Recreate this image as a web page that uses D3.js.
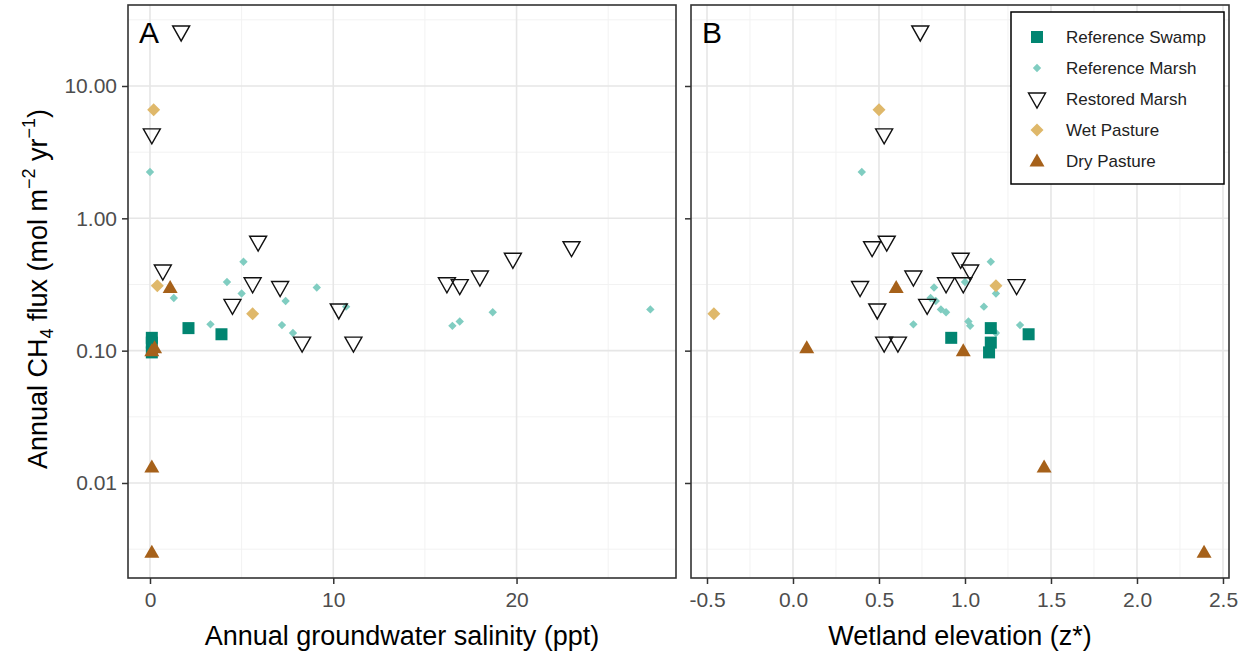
<!DOCTYPE html>
<html>
<head>
<meta charset="utf-8">
<script src="https://cdn.jsdelivr.net/npm/d3@7"></script>
<style>
body { margin:0; background:#fff; }
svg text { font-family: Arial, "Liberation Sans", sans-serif; }
</style>
</head>
<body>
<svg id="chart" width="1250" height="653"></svg>
<script>
// ---- data ----
const groups = ["Reference Swamp", "Reference Marsh", "Restored Marsh", "Wet Pasture", "Dry Pasture"]

const swampFlux = [0.148, 0.133, 0.125, 0.115, 0.097]
const swampSal  = [2.1, 3.9, 0.1, 0.1, 0.1]
const swampElev = [1.15, 1.37, 0.92, 1.15, 1.14]

const refMarshFlux = [2.24, 0.47, 0.33, 0.27, 0.25, 0.30, 0.237, 0.215, 0.158, 0.156, 0.136, 0.154, 0.166, 0.195, 0.205]
const refMarshSal  = [0.0, 5.1, 4.2, 5.0, 1.3, 9.1, 7.4, 10.7, 3.3, 7.2, 7.8, 16.5, 16.9, 18.7, 27.3]
const refMarshElev = [0.40, 1.15, 1.00, 1.18, 0.80, 0.82, 0.83, 1.11, 0.70, 1.32, 1.18, 1.03, 1.02, 0.89, 0.86]

const restFlux = [25.6, 4.27, 0.40, 0.66, 0.32, 0.30, 0.22, 0.114, 0.114, 0.203, 0.32, 0.31, 0.36, 0.49, 0.60]
const restSal  = [1.7, 0.1, 0.7, 5.9, 5.6, 7.1, 4.5, 8.3, 11.1, 10.3, 16.2, 16.9, 18.0, 19.8, 23.0]
const restElev = [0.74, 0.53, 1.03, 0.545, 0.89, 0.39, 0.78, 0.53, 0.61, 0.49, 0.99, 1.30, 0.70, 0.975, 0.46]

const wetFlux = [6.6, 0.31, 0.19]
const wetSal  = [0.2, 0.4, 5.6]
const wetElev = [0.50, 1.18, -0.46]

const dryFlux = [0.30, 0.10, 0.105, 0.0132, 0.0030]
const drySal  = [1.1, 0.1, 0.25, 0.1, 0.1]
const dryElev = [0.60, 0.99, 0.08, 1.46, 2.39]

const yTicks = [10, 1, 0.1, 0.01]
const yMinor = [31.62, 3.162, 0.3162, 0.03162, 0.003162]
const xTicksA = [0, 10, 20]
const xMinorA = [5, 15, 25]
const xTicksB = [-0.5, 0, 0.5, 1, 1.5, 2, 2.5]
const xMinorB = [-0.25, 0.25, 0.75, 1.25, 1.75, 2.25]

// ---- styles ----
const colors = {
    "Reference Swamp": "#018571",
    "Reference Marsh": "#80CDC1",
    "Restored Marsh": "#ffffff",
    "Wet Pasture": "#DFB86A",
    "Dry Pasture": "#A6611A"
}

const svg = d3.select("#chart")

const plotTop = 5, plotBottom = 578
const hyphenFmt = v => d3.format(".1f")(v).replace("\u2212", "-")
const panels = [
    {key:"A", left:128, right:676, domain:[-1.2, 28.7], ticks:xTicksA, minor:xMinorA, fmt:d3.format("d"),
     title:"Annual groundwater salinity (ppt)", labels:true},
    {key:"B", left:691, right:1229, domain:[-0.593, 2.535], ticks:xTicksB, minor:xMinorB, fmt:hyphenFmt,
     title:"Wetland elevation (z*)", labels:false}
]

const y = d3.scaleLog().domain([Math.pow(10,-2.718), Math.pow(10,1.612)]).range([plotBottom, plotTop])

// build point table from the arrays
function rows(flux, xs, group){ return flux.map((f,i)=>({flux:f, x:xs[i], group:group})) }
const dataA = [].concat(
    rows(refMarshFlux, refMarshSal, "Reference Marsh"),
    rows(swampFlux, swampSal, "Reference Swamp"),
    rows(restFlux, restSal, "Restored Marsh"),
    rows(wetFlux, wetSal, "Wet Pasture"),
    rows(dryFlux, drySal, "Dry Pasture"))
const dataB = [].concat(
    rows(refMarshFlux, refMarshElev, "Reference Marsh"),
    rows(swampFlux, swampElev, "Reference Swamp"),
    rows(restFlux, restElev, "Restored Marsh"),
    rows(wetFlux, wetElev, "Wet Pasture"),
    rows(dryFlux, dryElev, "Dry Pasture"))

// marker shapes
function drawMarker(g, group, cx, cy){
    if (group=="Reference Swamp"){
        g.append("rect").attr("x",cx-6).attr("y",cy-6).attr("width",12).attr("height",12)
         .attr("fill",colors[group])
    } else if (group=="Reference Marsh"){
        g.append("path").attr("d",`M${cx},${cy-4.2}L${cx+4.2},${cy}L${cx},${cy+4.2}L${cx-4.2},${cy}Z`)
         .attr("fill",colors[group])
    } else if (group=="Wet Pasture"){
        g.append("path").attr("d",`M${cx},${cy-6.5}L${cx+6.5},${cy}L${cx},${cy+6.5}L${cx-6.5},${cy}Z`)
         .attr("fill",colors[group])
    } else if (group=="Restored Marsh"){
        g.append("path").attr("d",`M${cx-8.5},${cy-6}L${cx+8.5},${cy-6}L${cx},${cy+9}Z`)
         .attr("fill","none").attr("stroke","#111").attr("stroke-width",1.4)
    } else {
        g.append("path").attr("d",`M${cx},${cy-7.5}L${cx+7.5},${cy+5.5}L${cx-7.5},${cy+5.5}Z`)
         .attr("fill",colors[group])
    }
}

panels.forEach((p, pi) => {
    const x = d3.scaleLinear().domain(p.domain).range([p.left, p.right])
    const g = svg.append("g")

    //-------------grid
    p.minor.forEach(v => g.append("line").attr("x1",x(v)).attr("x2",x(v)).attr("y1",plotTop).attr("y2",plotBottom)
        .attr("stroke","#F2F2F2").attr("stroke-width",1))
    yMinor.forEach(v => { if (y(v)>plotTop && y(v)<plotBottom)
        g.append("line").attr("x1",p.left).attr("x2",p.right).attr("y1",y(v)).attr("y2",y(v))
        .attr("stroke","#F2F2F2").attr("stroke-width",1) })
    p.ticks.forEach(v => g.append("line").attr("x1",x(v)).attr("x2",x(v)).attr("y1",plotTop).attr("y2",plotBottom)
        .attr("stroke","#E6E6E6").attr("stroke-width",1.6))
    yTicks.forEach(v => g.append("line").attr("x1",p.left).attr("x2",p.right).attr("y1",y(v)).attr("y2",y(v))
        .attr("stroke","#E6E6E6").attr("stroke-width",1.6))

    //-------------axes
    const xAxis = d3.axisBottom(x).tickValues(p.ticks).tickFormat(p.fmt).tickSize(6).tickPadding(8)
    const ax = g.append("g").attr("transform",`translate(0,${plotBottom})`).call(xAxis)
    ax.select(".domain").remove()
    ax.selectAll("line").attr("stroke","#333").attr("stroke-width",1.5)
    ax.selectAll("text").attr("font-size",21).attr("fill","#4D4D4D")

    const yAxis = d3.axisLeft(y).tickValues(yTicks).tickFormat(d3.format(".2f")).tickSize(6).tickPadding(5)
    const ay = g.append("g").attr("transform",`translate(${p.left},0)`).call(yAxis)
    ay.select(".domain").remove()
    ay.selectAll("line").attr("stroke","#333").attr("stroke-width",1.5)
    ay.selectAll("text").attr("font-size",21).attr("fill","#4D4D4D")
    if (!p.labels) ay.selectAll("text").remove()

    //-------------points
    const data = pi==0 ? dataA : dataB
    const pts = g.append("g")
    for (let d of data){
        drawMarker(pts, d.group, x(d.x), y(d.flux))
    }

    //-------------border
    g.append("rect").attr("x",p.left).attr("y",plotTop).attr("width",p.right-p.left).attr("height",plotBottom-plotTop)
        .attr("fill","none").attr("stroke","#333").attr("stroke-width",1.6)

    g.append("text").attr("x",p.left+11).attr("y",43).attr("font-size",30).attr("fill","#000").text(p.key)

    g.append("text").attr("x",(p.left+p.right)/2).attr("y",645).attr("text-anchor","middle")
        .attr("font-size",27).attr("fill","#000").text(p.title)
})

// y axis title
const yt = svg.append("text").attr("transform","translate(47,289) rotate(-90)")
    .attr("text-anchor","middle").attr("font-size",27).attr("fill","#000")
yt.append("tspan").text("Annual CH")
yt.append("tspan").attr("font-size",18).attr("dy",6).text("4")
yt.append("tspan").attr("dy",-6).text(" flux (mol m")
yt.append("tspan").attr("font-size",18).attr("dy",-12).text("\u22122")
yt.append("tspan").attr("dy",12).text(" yr")
yt.append("tspan").attr("font-size",18).attr("dy",-12).text("\u22121")
yt.append("tspan").attr("dy",12).text(")")

//-------------legend
const lg = svg.append("g")
lg.append("rect").attr("x",1011).attr("y",12).attr("width",213).attr("height",172)
    .attr("fill","#fff").attr("stroke","#000").attr("stroke-width",1.5)
groups.forEach((gr, i) => {
    const cy = 37 + i*31
    drawMarker(lg, gr, 1037, cy)
    lg.append("text").attr("x",1066).attr("y",cy+6).attr("font-size",17).attr("fill","#222").text(gr)
})
</script>
</body>
</html>
